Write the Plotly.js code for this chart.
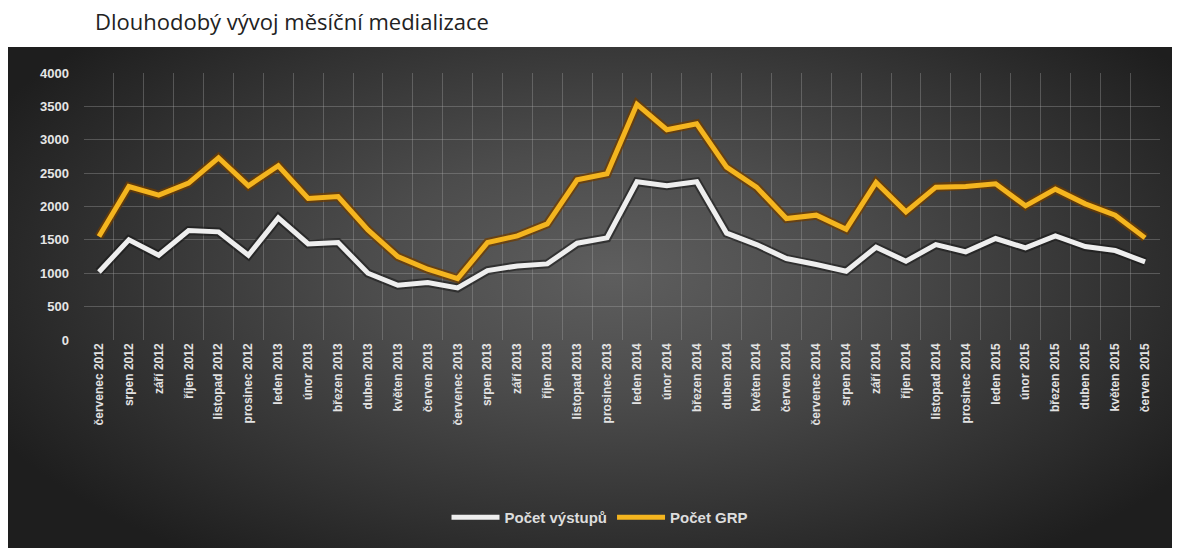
<!DOCTYPE html>
<html>
<head>
<meta charset="utf-8">
<script src="https://cdn.plot.ly/plotly-3.0.1.min.js"></script>
<style>
  html, body { margin:0; padding:0; background:#ffffff; width:1181px; height:548px; overflow:hidden; }
  #panel { position:absolute; left:8px; top:47px; width:1164px; height:501px;
    background: radial-gradient(ellipse 60% 70% at 52% 45%, #5e5e5e 0%, #4c4c4c 35%, #303030 75%, #1e1e1e 100%); }
  #chart { position:absolute; left:0; top:0; width:1181px; height:548px; }
</style>
</head>
<body>
<div id="panel"></div>
<div id="chart"></div>
<script>
const categories = [
  "červenec 2012","srpen 2012","září 2012","říjen 2012","listopad 2012","prosinec 2012",
  "leden 2013","únor 2013","březen 2013","duben 2013","květen 2013","červen 2013",
  "červenec 2013","srpen 2013","září 2013","říjen 2013","listopad 2013","prosinec 2013",
  "leden 2014","únor 2014","březen 2014","duben 2014","květen 2014","červen 2014",
  "červenec 2014","srpen 2014","září 2014","říjen 2014","listopad 2014","prosinec 2014",
  "leden 2015","únor 2015","březen 2015","duben 2015","květen 2015","červen 2015"
];
const pocetVystupu = [
  1020, 1500, 1270, 1640, 1620, 1270,
  1830, 1440, 1460, 1000, 820, 860,
  780, 1040, 1110, 1140, 1450, 1530,
  2370, 2310, 2370, 1600, 1430, 1220,
  1130, 1030, 1390, 1180, 1430, 1320,
  1520, 1380, 1560, 1400, 1340, 1170
];
const pocetGRP = [
  1550, 2300, 2170, 2350, 2730, 2310,
  2610, 2120, 2150, 1650, 1250, 1060,
  920, 1460, 1560, 1740, 2400, 2490,
  3530, 3150, 3240, 2590, 2290, 1820,
  1870, 1660, 2360, 1920, 2290, 2300,
  2340, 2010, 2260, 2040, 1870, 1530
];
const yTicks = [0, 500, 1000, 1500, 2000, 2500, 3000, 3500, 4000];

const traces = [
  {x: categories, y: pocetVystupu, type:'scatter', mode:'lines', showlegend:false, hoverinfo:'skip',
   line:{color:'rgba(20,20,20,0.55)', width:9}},
  {x: categories, y: pocetVystupu, type:'scatter', mode:'lines', name:'Počet výstupů',
   line:{color:'#eeeeee', width:5}},
  {x: categories, y: pocetGRP, type:'scatter', mode:'lines', showlegend:false, hoverinfo:'skip',
   line:{color:'rgba(110,60,0,0.75)', width:9}},
  {x: categories, y: pocetGRP, type:'scatter', mode:'lines', name:'Počet GRP',
   line:{color:'#f4b51f', width:5}}
];

const layout = {
  width:1181, height:548,
  paper_bgcolor:'rgba(0,0,0,0)', plot_bgcolor:'rgba(0,0,0,0)',
  margin:{l:84, r:21, t:73, b:208},
  title:{text:'Dlouhodobý vývoj měsíční medializace', x:95/1181, xanchor:'left', xref:'container',
         y:1-22/548, yanchor:'middle', yref:'container',
         font:{family:'Open Sans, sans-serif', size:22, color:'#222222', weight:500}},
  xaxis:{type:'category', range:[-0.5, categories.length - 0.5], tickson:'boundaries', showgrid:true,
         gridcolor:'rgba(170,170,170,0.35)', gridwidth:1,
         tickangle:-90, ticks:'', showline:false, zeroline:false, fixedrange:true,
         tickfont:{family:'Liberation Sans, sans-serif', size:12, color:'#e2e2e2', weight:'bold'}},
  yaxis:{range:[0, 4000], tickvals:yTicks, ticktext:yTicks.map(String), showgrid:true,
         gridcolor:'rgba(170,170,170,0.35)', gridwidth:1, zeroline:false, showline:false,
         ticklabelstandoff:14,
         tickfont:{family:'Liberation Sans, sans-serif', size:13, color:'#e6e6e6', weight:'bold'}},
  legend:{orientation:'h', x:(600-84)/1076, xanchor:'center', y:-0.665, yanchor:'middle',
          font:{family:'Liberation Sans, sans-serif', size:15, color:'#dddddd', weight:'bold'},
          bgcolor:'rgba(0,0,0,0)', itemwidth:48, traceorder:'normal'},
  showlegend:true
};

Plotly.newPlot('chart', traces, layout, {displayModeBar:false, staticPlot:true});
</script>
</body>
</html>
